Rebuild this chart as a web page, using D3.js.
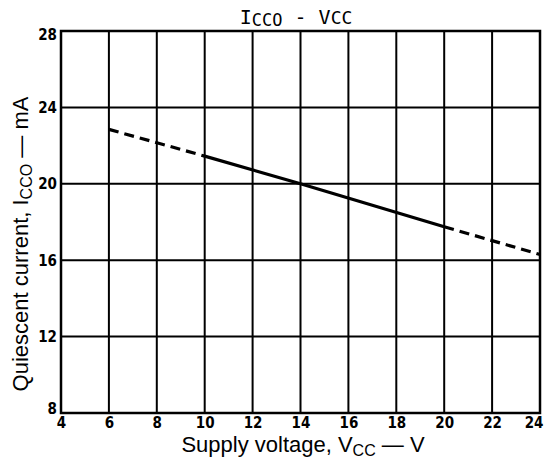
<!DOCTYPE html>
<html><head><meta charset="utf-8">
<script src="https://cdn.jsdelivr.net/npm/d3@7"></script>
<style>body{margin:0;background:#fff}svg{display:block}</style>
</head><body><svg id="c" width="544" height="463"></svg>
<script>
const xTicks = [4,6,8,10,12,14,16,18,20,22,24];
const yTicks = [8,12,16,20,24,28];
const voltage = [6,10,14,20,24];
const current = [22.85,21.45,20.0,17.75,16.3];
const solidRange = [10,20];

const svg = d3.select("#c");
const m = {l:61,r:540,t:31,b:413};
const x = d3.scaleLinear().domain([4,24]).range([m.l,m.r]);
const y = d3.scaleLinear().domain([8,28]).range([m.b,m.t]);

const g = svg.append("g");
g.selectAll(".vx").data(xTicks).enter().append("line")
  .attr("x1",d=>x(d)).attr("x2",d=>x(d)).attr("y1",m.t).attr("y2",m.b)
  .attr("stroke","#000").attr("stroke-width",2);
g.selectAll(".hy").data(yTicks).enter().append("line")
  .attr("x1",m.l).attr("x2",m.r).attr("y1",d=>y(d)).attr("y2",d=>y(d))
  .attr("stroke","#000").attr("stroke-width",2);
g.append("rect").attr("x",m.l).attr("y",m.t).attr("width",m.r-m.l).attr("height",m.b-m.t)
  .attr("fill","none").attr("stroke","#000").attr("stroke-width",2.5);

const tickFont = "'DejaVu Sans Condensed','DejaVu Sans',sans-serif";
const xa = svg.append("g").attr("transform",`translate(0,${m.b})`)
  .call(d3.axisBottom(x).tickValues(xTicks).tickSize(0).tickPadding(4).tickFormat(d3.format("d")));
xa.select(".domain").remove();
xa.selectAll("text").style("font-family",tickFont)
  .style("font-weight","900").style("font-size","15px").attr("fill","#000")
  .attr("text-anchor",d=>d===24?"end":"middle")
  .attr("dx",d=>d===24?"0.2em":0);
const ya = svg.append("g").attr("transform",`translate(${m.l},0)`)
  .call(d3.axisLeft(y).tickValues(yTicks).tickSize(0).tickPadding(4).tickFormat(d3.format("d")));
ya.select(".domain").remove();
ya.selectAll("text").style("font-family",tickFont)
  .style("font-weight","900").style("font-size","15px").attr("fill","#000")
  .attr("dy",(d)=> d===28? "0.55em" : d===8 ? "0.05em" : "0.32em");

const pts = voltage.map((v,i)=>({v, c:current[i]}));
const line = d3.line().x(d=>x(d.v)).y(d=>y(d.c));
const solid = pts.filter(p=>p.v>=solidRange[0] && p.v<=solidRange[1]);
const dashL = pts.filter(p=>p.v<=solidRange[0]);
const dashR = pts.filter(p=>p.v>=solidRange[1]);
svg.append("path").attr("d",line(solid)).attr("fill","none").attr("stroke","#000").attr("stroke-width",3.2);
[dashL,dashR].forEach(seg=>{
  svg.append("path").attr("d",line(seg)).attr("fill","none").attr("stroke","#000")
    .attr("stroke-width",3.2).attr("stroke-dasharray","10,6");
});

const t = svg.append("text").attr("x",296).attr("y",24).attr("text-anchor","middle")
  .attr("font-family","'DejaVu Sans Mono',monospace").attr("font-size",20).attr("fill","#000");
t.append("tspan").text("I");
t.append("tspan").attr("font-size",17).attr("dy",2).text("CCO");
t.append("tspan").attr("dy",-2).text(" - V");
t.append("tspan").attr("font-size",18).text("CC");

const xt = svg.append("text").attr("x",303).attr("y",452).attr("text-anchor","middle")
  .attr("font-family","'Liberation Sans',Arial,sans-serif").attr("font-size",22).attr("fill","#000");
xt.append("tspan").text("Supply voltage, V");
xt.append("tspan").attr("font-size",16).attr("dy",4).text("CC");
xt.append("tspan").attr("dy",-4).text(" \u2014 V");

const yt = svg.append("text").attr("transform","translate(28,244) rotate(-90)").attr("text-anchor","middle")
  .attr("font-family","'Liberation Sans',Arial,sans-serif").attr("font-size",22).attr("fill","#000");
yt.append("tspan").text("Quiescent current, I");
yt.append("tspan").attr("font-size",16).attr("dy",4).text("CCO");
yt.append("tspan").attr("dy",-4).text(" \u2014 mA");
</script></body></html>
